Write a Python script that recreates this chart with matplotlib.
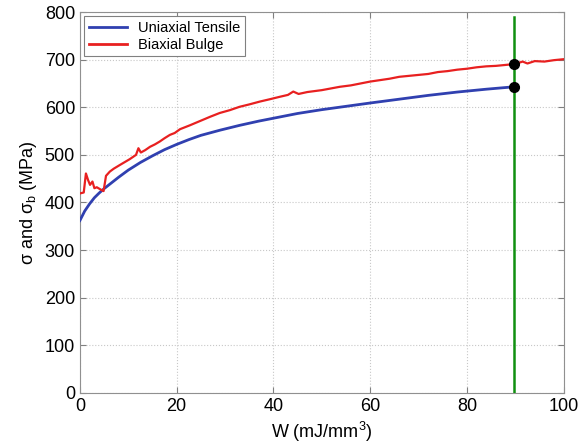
import matplotlib
matplotlib.use("Agg")
import matplotlib.pyplot as plt

plt.rcParams['font.family'] = ['Liberation Sans', 'DejaVu Sans']
plt.rcParams['mathtext.fontset'] = 'custom'
plt.rcParams['mathtext.rm'] = 'Liberation Sans'
plt.rcParams['mathtext.it'] = 'Liberation Sans:italic'

# Uniaxial tensile
w_uni = [0, 1, 2, 3, 4, 5, 6, 8, 10, 12.5, 15, 17.5, 20, 22.5, 25, 29, 33, 37, 41,
         45, 50, 55, 60, 66, 72, 78, 84, 89.7]
s_uni = [362, 382, 397, 410, 420, 429, 437, 453, 468, 484, 498, 511, 522, 532, 541,
         552, 562, 571, 579, 587, 595, 602, 609, 617, 625, 632, 638, 643]

# Biaxial bulge
w_bi = [0, 0.8, 1.25, 1.7, 2.1, 2.6, 3.0, 3.5, 4.0, 4.5, 4.9, 5.4, 6.2, 7, 8.3, 9.3,
        10.3, 11.6, 12.1, 12.6, 13.5, 14.5, 15.5, 16.5, 17.5, 18.6, 19.6, 20.7, 22.7,
        24.8, 26.9, 28.9, 31, 33, 35, 37.2, 39.3, 41.3, 43, 44.1, 45.2, 47, 50, 53.7,
        56, 58, 60, 62, 64, 66, 68, 70, 72, 74, 76, 78, 80, 82, 84, 86, 88, 90, 91.5,
        92.5, 94, 96, 98, 100]
s_bi = [419, 421, 461, 447, 437, 444, 430, 432, 429, 426, 424, 456, 465, 471, 479,
        485, 491, 500, 514, 505, 510, 517, 522, 528, 535, 542, 546, 554, 562,
        571, 580, 588, 594, 601, 606, 612, 617, 622, 626, 633, 628, 632, 636, 643, 646,
        650, 654, 657, 660, 664, 666, 668, 670, 674, 676, 679, 681, 684, 686, 687,
        689, 691, 696, 692, 697, 696, 699, 701]

# Marker line and points
w_mark = 89.7
mark_top = 790
pts_s = [643, 691]

fig = plt.figure(figsize=(5.83, 4.47), dpi=100)
ax = fig.add_axes([0.137, 0.121, 0.830, 0.852])

ax.plot(w_uni, s_uni, color='#3040b0', lw=2, label='Uniaxial Tensile', zorder=3)
ax.plot(w_bi, s_bi, color='#e82020', lw=1.6, label='Biaxial Bulge', zorder=3)
ax.plot([w_mark, w_mark], [0, mark_top], color='#109010', lw=1.8, zorder=4)
ax.plot([w_mark] * len(pts_s), pts_s, 'o', color='black', ms=7, zorder=5)

ax.set_xlim(0, 100)
ax.set_ylim(0, 800)
ax.set_xticks(range(0, 101, 20))
ax.set_yticks(range(0, 801, 100))
ax.grid(True, linestyle=':', color='#c8c8c8', lw=0.8)
ax.tick_params(direction='in', top=True, right=True, labelsize=13, color='#808080', length=4)
for sp in ax.spines.values():
    sp.set_color('#909090')

ax.set_xlabel('W (mJ/mm$^3$)', fontsize=13, labelpad=4)
ax.set_ylabel('σ and σ$_\\mathrm{b}$ (MPa)', fontsize=13, labelpad=4)

leg = ax.legend(loc='upper left', fontsize=10.5, fancybox=False, framealpha=1,
                edgecolor='#808080', handlelength=2.6, borderaxespad=0.3,
                borderpad=0.3, labelspacing=0.2)
leg.get_frame().set_linewidth(0.8)
for line in leg.get_lines():
    line.set_linewidth(2)

fig.savefig('out.png', dpi=100)
